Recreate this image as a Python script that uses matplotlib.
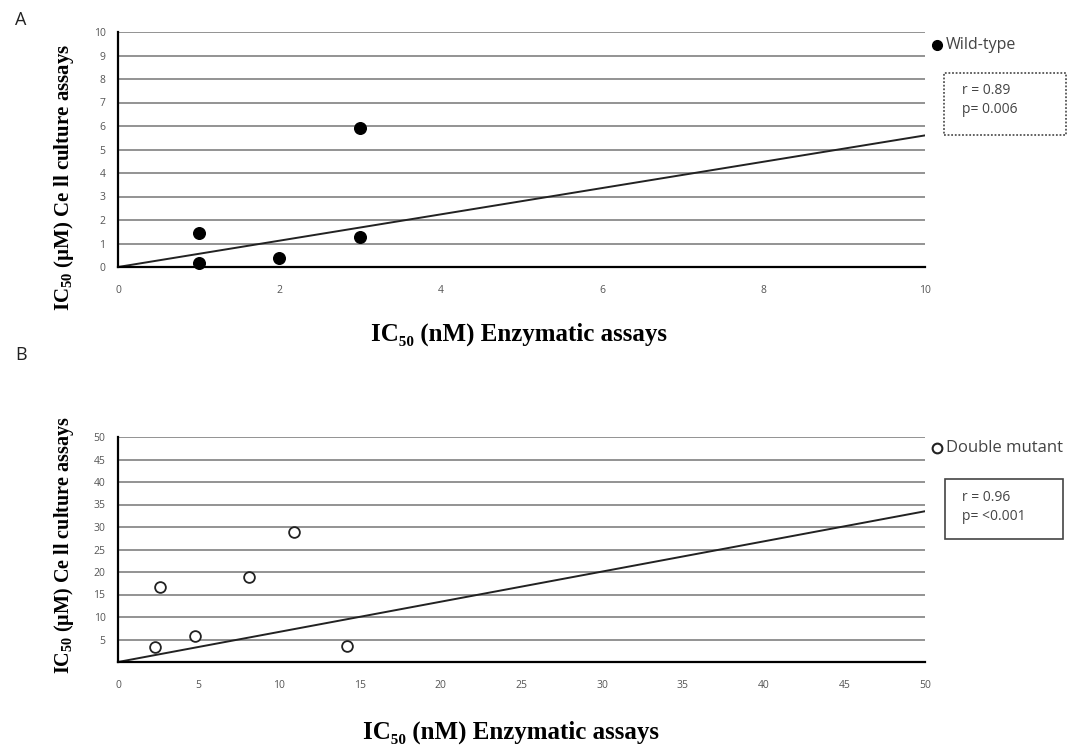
import matplotlib
matplotlib.use('Agg')
import matplotlib.pyplot as plt
from matplotlib.patches import Rectangle

# Wild-type (panel A)
wt_x = [1, 1, 2, 3, 3]
wt_y = [1.45, 0.17, 0.38, 5.92, 1.28]
wt_trend_slope = 0.56
wt_stats = "r = 0.89\np= 0.006"

# Double mutant (panel B)
dm_x = [2.3, 2.6, 4.8, 8.1, 10.9, 14.2]
dm_y = [3.3, 16.7, 5.8, 18.9, 28.9, 3.6]
dm_trend_slope = 0.67
dm_stats = "r = 0.96\np= <0.001"

a_xticks = [0, 2, 4, 6, 8, 10]
a_yticks = list(range(0, 11))
b_xticks = list(range(0, 55, 5))
b_yticks = list(range(5, 55, 5))

W, H = 1079, 749
fig = plt.figure(figsize=(W / 100, H / 100), dpi=100)


def fx(px):
    return px / W


def fy(py):
    return 1 - py / H


ylab = "IC$_{\\mathregular{50}}$ (\u00b5M) Ce ll culture assays"
xlab = "IC\u2085\u2080 (nM) Enzymatic assays"
serif = ['Liberation Serif', 'DejaVu Serif']
sans = ['Open Sans', 'DejaVu Sans']


def style_axes(ax, xmax, ymax, xticks, yticks):
    ax.set_xlim(0, xmax)
    ax.set_ylim(0, ymax)
    ax.set_xticks(xticks)
    ax.set_yticks(yticks)
    for s in ['top', 'right']:
        ax.spines[s].set_visible(False)
    for s in ['left', 'bottom']:
        ax.spines[s].set_color('black')
        ax.spines[s].set_linewidth(1.6)
    for t in yticks:
        if t > 0:
            ax.axhline(t, color='#8a8a8a', lw=1.3, zorder=1)
    ax.tick_params(length=0, labelsize=7.5, colors='#555555')
    ax.tick_params(axis='x', pad=13)
    ax.tick_params(axis='y', pad=9)
    for lab in ax.get_xticklabels() + ax.get_yticklabels():
        lab.set_family(sans)


# ---- Panel A
axA = fig.add_axes([fx(118), fy(267), fx(925) - fx(118), fy(32) - fy(267)])
style_axes(axA, 10, 10, a_xticks, a_yticks)
axA.scatter(wt_x, wt_y, s=70, color='black', zorder=3, clip_on=False)
axA.plot([0, 10], [0, 10 * wt_trend_slope], color='#222222', lw=1.4, zorder=2)
axA.set_ylabel(ylab, fontsize=15, fontweight='bold', family=serif)
axA.yaxis.set_label_coords(-42 / 807, 0.38)
axA.set_xlabel(xlab, fontsize=18, fontweight='bold', family=serif)
axA.xaxis.set_label_coords(0.497, -56 / 235)

# ---- Panel B
axB = fig.add_axes([fx(118), fy(662), fx(925) - fx(118), fy(437) - fy(662)])
style_axes(axB, 50, 50, b_xticks, b_yticks)
axB.scatter(dm_x, dm_y, s=60, facecolor='white', edgecolor='#222222', linewidth=1.3, zorder=3)
axB.plot([0, 50], [0, 50 * dm_trend_slope], color='#222222', lw=1.4, zorder=2)
axB.set_ylabel(ylab, fontsize=14.5, fontweight='bold', family=serif)
axB.yaxis.set_label_coords(-42 / 807, 0.52)
axB.set_xlabel(xlab, fontsize=18, fontweight='bold', family=serif)
axB.xaxis.set_label_coords(0.487, -59 / 225)

# ---- legends and stat boxes
fig.text(fx(15), fy(20), "A", fontsize=13, family=sans, color='#222222', va='center')
fig.text(fx(15), fy(355), "B", fontsize=13, family=sans, color='#222222', va='center')

fig.lines.append(plt.Line2D([fx(937)], [fy(45)], marker='o', markersize=7, color='black',
                            transform=fig.transFigure))
fig.text(fx(946), fy(45), "Wild-type", fontsize=11.5, family=sans, color='#444444', va='center')
fig.lines.append(plt.Line2D([fx(937)], [fy(448)], marker='o', markersize=7, markerfacecolor='white',
                            markeredgecolor='#222222', markeredgewidth=1.5, color='none',
                            transform=fig.transFigure))
fig.text(fx(946), fy(448), "Double mutant", fontsize=12, family=sans, color='#444444', va='center')

fig.patches.append(Rectangle((fx(944), fy(135)), fx(1066) - fx(944), fy(73) - fy(135),
                             transform=fig.transFigure, fill=False, edgecolor='#555555',
                             lw=1.3, linestyle=(0, (1, 1))))
fig.text(fx(962), fy(100), wt_stats, fontsize=10, family=sans, color='#444444', va='center',
         linespacing=1.45)
fig.patches.append(Rectangle((fx(945), fy(539)), fx(1063) - fx(945), fy(479) - fy(539),
                             transform=fig.transFigure, fill=False, edgecolor='#444444', lw=1.2))
fig.text(fx(962), fy(507), dm_stats, fontsize=10, family=sans, color='#444444', va='center',
         linespacing=1.45)

fig.savefig('out.png', dpi=100)
